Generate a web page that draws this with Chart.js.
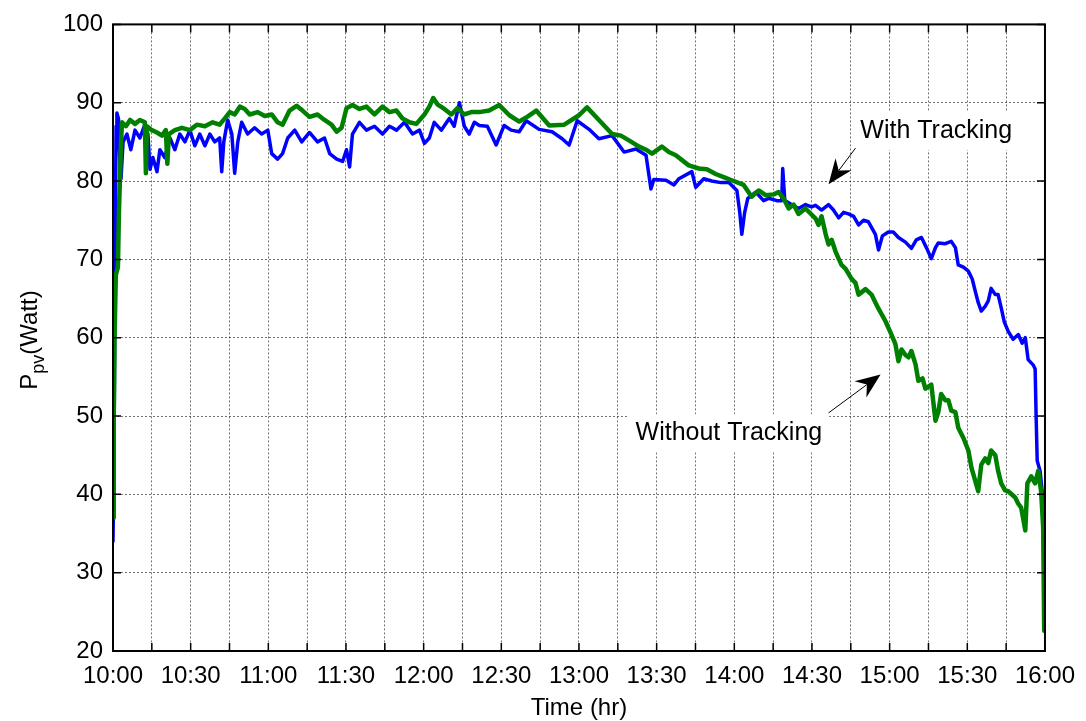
<!DOCTYPE html>
<html>
<head>
<meta charset="utf-8">
<script src="https://cdn.jsdelivr.net/npm/chart.js@4"></script>
<style>
  body { margin: 0; background: #fff; }
  #wrap { width: 1086px; height: 721px; }
</style>
</head>
<body>
<div id="wrap"><canvas id="pvChart" width="1086" height="721"></canvas></div>
<script>
// ----------- data (minutes after 10:00, watts) -----------
const withTime = [0,0.4,0.8,1.2,1.5,2.1,2.7,3.1,3.9,5.4,6.9,8.5,10.4,12.3,13.5,14.3,15.4,17,18.1,20,22,23.9,25.8,27.8,29.7,31.6,33.5,35.5,37.4,39.3,41.2,42,42.8,44.3,45.9,47,48.2,49.7,52,54.7,57.4,59.8,61.3,63.6,65.5,67.5,70.2,72.9,75.9,79,81.7,83.7,86.4,88.7,90.2,91.4,92.5,95.2,97.9,101,104.1,106.8,109.5,112.6,115.7,118.4,120.3,122.2,124.1,126.8,129.9,131.8,133.8,135.7,137.6,139.6,141.5,144.6,148,151.1,153.8,156.9,159.6,164.6,169.6,173.5,176.2,179.3,183.9,187.7,192.8,197.4,202,205.9,207.8,208.9,213.6,216.7,218.6,223.6,225.1,228.2,231.3,234.8,237.9,241,242.1,242.9,244,245.2,248.3,251.3,253.3,256.4,258.3,258.7,259.5,262.1,264.8,267.5,269.8,271.4,273.7,276.4,278.3,280.3,282.2,284.1,286.1,288,289.9,291.8,294.5,295.7,297.2,299.5,301.4,303.4,306.1,308.4,310.3,312.3,314.2,316.1,317.7,318.8,321.5,323.8,325.4,326.5,328.5,330.4,331.9,333.1,334.2,335.4,336.9,338.1,339.2,340.8,341.9,343.1,344.3,345.8,347.7,349.7,351.2,352.4,353.5,355.5,356.2,356.6,357,358.1,358.9,359.7];
const withWatt = [34,45,70,87,88.7,88,82,80.3,85,86,84,86.5,85.5,87.2,86,81.5,83,81.2,84,83,85.5,84,86,85,86.5,84.5,86,84.5,86,85,85.5,81.2,85,87.8,86,81,85,87.5,86,86.8,86,86.5,83.5,82.8,83.5,85.5,86.5,85,86.2,85,85.5,83.5,82.8,82.5,84,81.8,86,87.5,86.5,87,86,87,86.5,87.5,86,86.5,84.8,85.5,87.5,86.5,88,87,90,87,86,87.5,87.1,87,84.6,87.1,86.5,86.3,87.7,86.6,86.3,85.4,84.6,87.7,86.6,85.4,85.8,83.7,84.1,83.3,79,80.2,80.1,79.5,80.3,81.2,79.2,80.3,80,79.8,79.8,78.8,76,73.2,76,77.8,78.6,77.5,77.8,77.5,77.5,81.6,77.5,77,76.5,77,76.7,76.9,76.3,77,76.3,75.3,76,75.8,75.5,74.4,75,74.8,73.2,71.2,73,73.5,73.5,72.8,72.2,71.4,72.5,72.8,71.5,70.1,71.5,72.1,72,72.3,71.5,69.3,69,68.5,67.5,65.9,64.5,63.4,64,64.7,66.3,65.5,65.5,63.8,62,60.8,59.8,60.4,59.3,60,57.2,56.5,56,49.7,44.3,43,40.5,35.8];

const withoutTime = [0,0.3,0.6,1.1,1.9,2.3,3.1,3.5,5,6.6,8.5,10.4,12.3,12.7,13.1,15,17,18.9,20.4,21,21.6,23.9,26.6,29.7,32.4,35.5,38.5,41.2,43.2,45.1,47,49,50.9,52.8,55.9,58.6,61.3,63.6,65.5,68.2,70.9,73.2,75.9,79,81.7,84.4,86.4,88.3,90.2,92.5,95.2,97.9,101,104.1,106.8,109.5,111.8,114.5,117.2,120.3,122.2,123.7,125.3,128,130.7,133,135.7,138.4,141.5,145.3,149.2,153.1,156.9,160,163.5,168.5,174.3,180,183.1,187.7,192.8,196.2,199.3,203.2,205.9,208.2,212,214.7,217.4,222.4,226.3,229.4,232.8,235.9,239,243.6,246.7,249.4,252.1,255.2,257.1,259,261,262.9,264.8,267.5,269.9,271.4,272.5,273.7,275.3,276.4,277.6,279.1,280.3,281.4,283,285.3,286.8,288,290.7,293,294.5,295.7,298.4,300.7,302.2,303.4,304.6,306.1,307.3,308.4,310,311.1,312.7,313.8,316.1,317.7,318.8,319.9,321.5,322.7,323.8,325.4,326.5,328.5,330.4,331.6,333.1,334.2,335.4,336.9,338.1,339.2,340.8,341.9,343.1,344.6,345.8,348.5,349.7,350.8,352.4,353.2,354.7,356.2,357.4,358.5,359.3,359.7];
const withoutWatt = [37,50,60,68,69,76,85,87.5,87,87.8,87.3,87.8,87.5,81,87,86.5,86.2,85.8,86.5,82.2,86,86.5,86.8,86.5,87.2,87,87.5,87.2,88,88.8,88.5,89.5,89.2,88.5,88.8,88.3,88.5,87.5,87.2,89,89.6,89,88.2,88.5,87.8,87.2,86.3,86.8,89.3,89.7,89.2,89.5,88.5,89.5,88.8,89,88,87.5,87.3,88.5,89.5,90.6,89.8,89.2,88.5,89.3,88.5,88.8,88.8,89,89.7,88.4,87.6,88.2,89,87.1,87.2,88.4,89.4,87.8,86,85.8,85.2,84.4,84,83.5,84.4,83.7,83.3,82,81.6,81.5,80.9,80.5,80.1,79.5,78,78.8,78.2,78.3,78.6,77.8,76.5,77,75.8,76.5,75.7,75.2,74.4,75.5,73.2,71.9,72.5,71,70.1,69.3,68.8,67.5,67,65.5,66.2,65.5,64.5,63.7,62.1,60.4,59.2,57,58.5,57.8,57.5,58.3,56.6,54.5,54.8,53.5,54,49.4,50.5,52.8,52,52,50.7,50.5,48.5,47.2,45.6,43.4,41.7,40.4,43.8,44.6,44,45.6,45,43,41.4,40.5,40.4,39.6,38.8,38.3,35.4,41.4,42.3,41.4,43,40.4,35.8,22.6];

const xTickLabels = ['10:00','10:30','11:00','11:30','12:00','12:30','13:00','13:30','14:00','14:30','15:00','15:30','16:00'];

// text boxes: [minute, watt] of the label centre, arrow tail and arrow tip
const noteWith = { text: 'With Tracking', at: [318, 86.4], tail: [286.8, 84.2], tip: [276.4, 79.6] };
const noteWithout = { text: 'Without Tracking', at: [237.9, 47.8], tail: [276.4, 50.4], tip: [296.5, 55.3] };

const FONT = '"Liberation Sans", Arial, sans-serif';

function toPoints(xs, ys) {
    return xs.map((x, i) => ({ x: x, y: ys[i] }));
}

function drawArrow(ctx, x0, y0, x1, y1) {
    const ang = Math.atan2(y1 - y0, x1 - x0);
    const len = 25, half = 10, notch = 17;
    ctx.strokeStyle = '#000';
    ctx.lineWidth = 1;
    ctx.beginPath();
    ctx.moveTo(x0, y0);
    ctx.lineTo(x1 - Math.cos(ang) * notch, y1 - Math.sin(ang) * notch);
    ctx.stroke();
    ctx.save();
    ctx.translate(x1, y1);
    ctx.rotate(ang);
    ctx.fillStyle = '#000';
    ctx.beginPath();
    ctx.moveTo(0, 0);
    ctx.lineTo(-len, -half);
    ctx.lineTo(-notch, 0);
    ctx.lineTo(-len, half);
    ctx.closePath();
    ctx.fill();
    ctx.restore();
}

// ----------- box, inner ticks, labels, notes -----------
const matlabDecor = {
    id: 'matlabDecor',
    afterDatasetsDraw(chart) {
        const ctx = chart.ctx;
        const a = chart.chartArea;
        const xs = chart.scales.x, ys = chart.scales.y;
        ctx.save();

        // white boxes behind notes + text
        ctx.font = '25px ' + FONT;
        ctx.textAlign = 'center';
        ctx.textBaseline = 'middle';
        [noteWith, noteWithout].forEach(n => {
            const cx = xs.getPixelForValue(n.at[0]);
            const cy = ys.getPixelForValue(n.at[1]);
            const w = ctx.measureText(n.text).width + 14;
            ctx.fillStyle = '#fff';
            ctx.fillRect(cx - w / 2, cy - 19, w, 38);
            ctx.fillStyle = '#000';
            ctx.fillText(n.text, cx, cy);
            drawArrow(ctx,
                xs.getPixelForValue(n.tail[0]), ys.getPixelForValue(n.tail[1]),
                xs.getPixelForValue(n.tip[0]), ys.getPixelForValue(n.tip[1]));
        });

        // axes box
        ctx.strokeStyle = '#000';
        ctx.lineWidth = 2;
        ctx.strokeRect(a.left, a.top, a.right - a.left, a.bottom - a.top);

        // inner tick marks
        ctx.lineWidth = 1.5;
        ctx.beginPath();
        for (let m = 0; m <= 360; m += 15) {
            const px = xs.getPixelForValue(m);
            ctx.moveTo(px, a.bottom); ctx.lineTo(px, a.bottom - 8);
            ctx.moveTo(px, a.top); ctx.lineTo(px, a.top + 8);
        }
        for (let v = 20; v <= 100; v += 10) {
            const py = ys.getPixelForValue(v);
            ctx.moveTo(a.left, py); ctx.lineTo(a.left + 8, py);
            ctx.moveTo(a.right, py); ctx.lineTo(a.right - 8, py);
        }
        ctx.stroke();

        // x title
        ctx.fillStyle = '#000';
        ctx.font = '24px ' + FONT;
        ctx.textAlign = 'center';
        ctx.textBaseline = 'middle';
        ctx.fillText('Time (hr)', (a.left + a.right) / 2, 708);

        // y title with subscript
        ctx.translate(29, 340);
        ctx.rotate(-Math.PI / 2);
        ctx.textAlign = 'left';
        ctx.textBaseline = 'alphabetic';
        const big = '24px ' + FONT, small = '18px ' + FONT;
        ctx.font = big; const wP = ctx.measureText('P').width;
        ctx.font = small; const wSub = ctx.measureText('pv').width;
        ctx.font = big; const wW = ctx.measureText('(Watt)').width;
        let x = -(wP + wSub + wW) / 2;
        ctx.font = big; ctx.fillText('P', x, 8); x += wP;
        ctx.font = small; ctx.fillText('pv', x, 15); x += wSub;
        ctx.font = big; ctx.fillText('(Watt)', x, 8);

        ctx.restore();
    }
};

const ctx = document.getElementById('pvChart').getContext('2d');

new Chart(ctx, {
    type: 'line',
    data: {
        datasets: [
            { label: 'Without Tracking', data: toPoints(withoutTime, withoutWatt), borderColor: '#008000', borderWidth: 4.5 },
            { label: 'With Tracking', data: toPoints(withTime, withWatt), borderColor: '#0000ff', borderWidth: 3.5 }
        ]
    },
    options: {
        responsive: false,
        animation: false,
        events: [],
        layout: { padding: { top: 22, right: 38, left: 0, bottom: 0 } },
        elements: { point: { radius: 0 }, line: { tension: 0, borderJoinStyle: 'round', borderCapStyle: 'round' } },
        plugins: { legend: { display: false }, tooltip: { enabled: false } },
        scales: {
            x: {
                type: 'linear',
                min: 0, max: 360,
                afterFit: s => { s.height = 70; },
                afterBuildTicks: s => {
                    s.ticks = [];
                    for (let m = 0; m <= 360; m += 15) s.ticks.push({ value: m });
                },
                ticks: {
                    autoSkip: false, maxRotation: 0, padding: 11,
                    color: '#000', font: { family: FONT, size: 24 },
                    callback: v => (v % 30 === 0 ? xTickLabels[v / 30] : '')
                },
                grid: { color: 'rgba(0,0,0,0.55)', lineWidth: 1, drawTicks: false },
                border: { display: false, dash: [2, 2] }
            },
            y: {
                min: 20, max: 100,
                afterFit: s => { s.width = 113; },
                ticks: {
                    stepSize: 10, padding: 10,
                    color: '#000', font: { family: FONT, size: 24 }
                },
                grid: { color: 'rgba(0,0,0,0.55)', lineWidth: 1, drawTicks: false },
                border: { display: false, dash: [2, 2] }
            }
        }
    },
    plugins: [matlabDecor]
});
</script>
</body>
</html>
